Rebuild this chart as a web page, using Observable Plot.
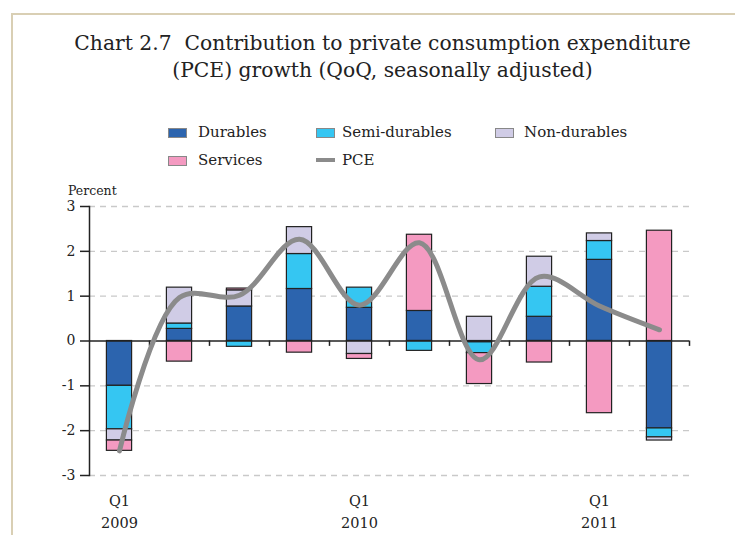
<!DOCTYPE html>
<html>
<head>
<meta charset="utf-8">
<script src="https://cdn.jsdelivr.net/npm/d3@7"></script>
<script src="https://cdn.jsdelivr.net/npm/@observablehq/plot@0.6"></script>
<style>
  html, body { margin: 0; padding: 0; background: #fff; overflow: hidden; }
  #page { position: relative; width: 735px; height: 535px; font-family: "DejaVu Serif", "Liberation Serif", serif; color: #222; }
  #border-top { position: absolute; left: 11px; top: 13px; width: 724px; height: 2px; background: #d9cfb4; }
  #border-left { position: absolute; left: 11px; top: 13px; width: 2px; height: 522px; background: #d9cfb4; }
  #title { position: absolute; left: 30px; width: 705px; top: 30px; text-align: center; font-size: 20.3px; line-height: 27px; }
  .leg-sw { position: absolute; width: 17px; height: 8px; border: 1px solid #888; }
  .leg-line { position: absolute; width: 19px; height: 4px; }
  .leg-tx { position: absolute; font-size: 15px; line-height: 16px; white-space: nowrap; }
  #ylabel { position: absolute; left: 68px; top: 184px; font-size: 12.5px; line-height: 14px; }
  #chart { position: absolute; left: 0; top: 180px; }
</style>
</head>
<body>
<div id="page">
  <div id="border-top"></div>
  <div id="border-left"></div>
  <div id="title">Chart 2.7&nbsp; Contribution to private consumption expenditure<br>(PCE) growth (QoQ, seasonally adjusted)</div>
  <div id="legend"></div>
  <div id="ylabel">Percent</div>
  <div id="chart"></div>
</div>
<script>
// ---- data ----
const quarters = ["2009Q1","2009Q2","2009Q3","2009Q4","2010Q1","2010Q2","2010Q3","2010Q4","2011Q1","2011Q2"];
const components = ["Durables","Semi-durables","Non-durables","Services"];
const durables     = [-1.00, 0.27, 0.77, 1.16, 0.74, 0.67, -0.03, 0.54, 1.81, -1.95];
const semiDurables = [-0.97, 0.12, -0.13, 0.78, 0.45, -0.22, -0.24, 0.67, 0.42, -0.20];
const nonDurables  = [-0.25, 0.80, 0.36, 0.60, -0.29, 0.00, 0.54, 0.67, 0.17, -0.07];
const services     = [-0.23, -0.46, 0.04, -0.26, -0.11, 1.70, -0.69, -0.48, -1.61, 2.46];
const pce          = [-2.45, 0.97, 1.02, 2.27, 0.80, 2.19, -0.42, 1.43, 0.78, 0.25];
const yTicks = [-3, -2, -1, 0, 1, 2, 3];
const xLabelQuarters = ["2009Q1", "2010Q1", "2011Q1"];

// ---- styles ----
const colors = ["#2c64ae", "#35c6f2", "#d0cce6", "#f49ac1"];
const pceColor = "#8b8b8b";
const pceLabel = "PCE";

const series = [durables, semiDurables, nonDurables, services];
const rows = quarters.flatMap((q, i) => components.map((c, j) => ({quarter: q, component: c, value: series[j][i]})));
const pceRows = quarters.map((q, i) => ({quarter: q, value: pce[i]}));

// legend
const legend = document.getElementById("legend");
const legendPos = [
  {sx: 168, sy: 128, tx: 198, ty: 123.5},
  {sx: 316, sy: 128, tx: 342, ty: 123.5},
  {sx: 495, sy: 128, tx: 524, ty: 123.5},
  {sx: 168, sy: 156, tx: 198, ty: 152}
];
components.forEach((c, i) => {
  const p = legendPos[i];
  const sw = document.createElement("div");
  sw.className = "leg-sw";
  sw.style.left = p.sx + "px"; sw.style.top = p.sy + "px"; sw.style.background = colors[i];
  legend.appendChild(sw);
  const tx = document.createElement("div");
  tx.className = "leg-tx";
  tx.style.left = p.tx + "px"; tx.style.top = p.ty + "px";
  tx.textContent = c;
  legend.appendChild(tx);
});
{
  const ln = document.createElement("div");
  ln.className = "leg-line";
  ln.style.left = "316px"; ln.style.top = "158px"; ln.style.background = pceColor;
  legend.appendChild(ln);
  const tx = document.createElement("div");
  tx.className = "leg-tx";
  tx.style.left = "342px"; tx.style.top = "152px";
  tx.textContent = pceLabel;
  legend.appendChild(tx);
}

const chart = Plot.plot({
  width: 735,
  height: 355,
  marginLeft: 89,
  marginRight: 46,
  marginTop: 26,
  marginBottom: 60,
  style: {fontFamily: "'DejaVu Serif', 'Liberation Serif', serif", fontSize: "14px", color: "#222", background: "transparent"},
  x: {domain: quarters, type: "band", paddingInner: 0.58, paddingOuter: 0.29, round: false, axis: null, label: null},
  y: {domain: [-3, 3], axis: null, label: null},
  color: {domain: components, range: colors},
  marks: [
    Plot.ruleY(yTicks.filter(d => d !== 0), {stroke: "#c9c9c9", strokeWidth: 1.3, strokeDasharray: "6,5"}),
    Plot.barY(rows, {x: "quarter", y: "value", fill: "component", stroke: "#222", strokeWidth: 1.2}),
    Plot.ruleY([0], {stroke: "#222", strokeWidth: 1.5}),
    Plot.ruleX(quarters, {x: d => d, dx: 30, y1: 0, y2: -0.12, stroke: "#222", strokeWidth: 1.5}),
    Plot.lineY(pceRows, {x: "quarter", y: "value", stroke: pceColor, strokeWidth: 5, curve: "catmull-rom"}),
    Plot.frame({anchor: "left", stroke: "#222", strokeWidth: 1.5}),
    Plot.axisY({ticks: yTicks, tickSize: 9, tickPadding: 5, tickFormat: d => String(d), fontSize: 14, stroke: "#222", strokeWidth: 1.5, label: null}),
    Plot.axisX({ticks: xLabelQuarters, tickSize: 0, tickPadding: 14.5, fontSize: 14.5, lineHeight: 1.52, label: null,
      tickFormat: d => "Q1\n" + d.slice(0, 4)})
  ]
});
document.getElementById("chart").appendChild(chart);
</script>
</body>
</html>
